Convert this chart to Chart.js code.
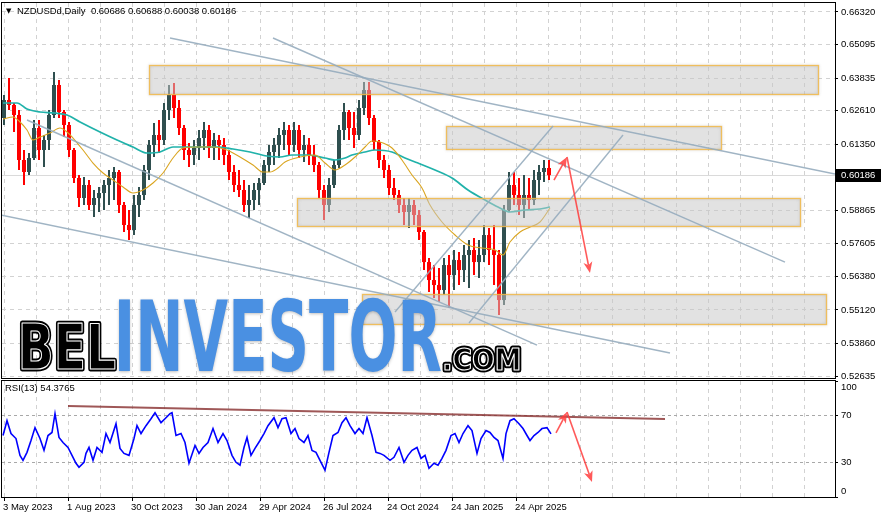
<!DOCTYPE html>
<html><head><meta charset="utf-8">
<script src="https://cdn.jsdelivr.net/npm/chart.js@4.4.1/dist/chart.umd.min.js"></script>
<style>
html,body{margin:0;padding:0;background:#fff;}
#wrap{position:relative;width:882px;height:519px;overflow:hidden;background:#fff}
#p1{position:absolute;left:0;top:0;width:882px;height:380px}
#p2{position:absolute;left:0;top:378px;width:882px;height:141px}
</style></head><body>
<div id="wrap">
<div id="p1"><canvas id="c1" width="882" height="380"></canvas></div>
<div id="p2"><canvas id="c2" width="882" height="141"></canvas></div>
</div>
<script>
// ===== DATA (weekly aggregated candles) =====
const symbolTitle = 'NZDUSDd,Daily  0.60686 0.60688 0.60038 0.60186';
const rsiTitle = 'RSI(13) 54.3765';
const tickLabels = ['3 May 2023','1 Aug 2023','30 Oct 2023','30 Jan 2024','29 Apr 2024','26 Jul 2024','24 Oct 2024','24 Jan 2025','24 Apr 2025'];
const tickDays = [2, 66, 130, 194, 258, 322, 386, 450, 514];
const priceTicks = [0.66320,0.65095,0.63835,0.62610,0.61350,0.58865,0.57605,0.56380,0.55120,0.53860,0.52635];
const rsiTicks = [0, 30, 70, 100];

const opens = [.62334,.63011,.62823,.62447,.60755,.60304,.60830,.61958,.61131,.61507,
.62447,.63575,.62560,.62071,.61131,.60078,.59326,.59815,.59063,.59326,
.59514,.59815,.60078,.60304,.59063,.58311,.58123,.59063,.59439,.60379,
.61319,.61695,.61507,.62635,.63199,.62710,.61958,.61131,.60943,.61206,
.61582,.61883,.61206,.61507,.61319,.60943,.60304,.59815,.59627,.59063,
.59251,.59627,.59890,.60567,.61056,.61319,.61695,.61883,.61319,.61883,
.61131,.61319,.60943,.60567,.59627,.59063,.59815,.60567,.61883,.62560,
.61958,.61695,.62710,.63387,.62334,.61432,.60755,.60379,.59702,.59439,
.59063,.58800,.59063,.58687,.58048,.56919,.56243,.56055,.55867,.56807,
.56431,.56995,.56619,.57183,.57371,.56919,.57183,.57935,.57371,.57183,
.55491,.58875,.59815,.59439,.59063,.59439,.59251,.60003,.60304,.60454];
const highs = [.63199,.63838,.62898,.62635,.61131,.61018,.62259,.62259,.61695,.62635,
.64064,.63763,.62635,.62184,.61206,.60191,.60116,.60003,.59627,.59740,
.60003,.60379,.60492,.60379,.59176,.58875,.59439,.59740,.60567,.61507,
.62146,.62259,.62898,.63575,.63650,.63011,.62071,.61394,.61507,.61883,
.62184,.62071,.61770,.61695,.61582,.61131,.60567,.60379,.60003,.59815,
.59890,.60078,.60755,.61319,.61582,.61958,.62184,.62071,.62184,.62071,
.61695,.61582,.61319,.60680,.59815,.60078,.60755,.62071,.62898,.62635,
.62560,.63011,.63688,.63688,.62447,.61507,.60943,.60567,.60078,.59627,
.59326,.59326,.59251,.58875,.58123,.57070,.56807,.56694,.57070,.57183,
.57371,.57296,.57559,.57747,.57822,.57747,.58311,.58198,.58311,.57371,
.59063,.60304,.60304,.60078,.60191,.60078,.60379,.60567,.60755,.60755];
const lows = [.62071,.62635,.61808,.60379,.59815,.60191,.60755,.60755,.60492,.61131,
.62334,.62334,.61620,.60868,.59890,.58988,.59063,.58875,.58612,.58800,
.58875,.59063,.59251,.58762,.58048,.57747,.57935,.58612,.59251,.60003,
.60868,.61018,.61319,.62259,.62334,.61695,.60755,.60492,.60567,.60755,
.61131,.60830,.60755,.60755,.60567,.60003,.59552,.59364,.58800,.58574,
.58875,.59063,.59815,.60304,.60567,.60830,.61131,.60943,.61056,.60830,
.60680,.60567,.60304,.59326,.58499,.58800,.59702,.60454,.61507,.61507,
.61206,.61507,.62447,.62071,.61131,.60454,.60078,.59439,.59251,.58762,
.58311,.58198,.58311,.57747,.56619,.55792,.55566,.55416,.55679,.55190,
.55867,.56055,.56168,.55943,.56431,.56318,.56919,.56807,.56055,.54927,
.55303,.58800,.59063,.58687,.58574,.58875,.59063,.59439,.59928,.60003];
const closes = [.63011,.62823,.62447,.60755,.60304,.60830,.61958,.61131,.61507,.62447,
.63575,.62560,.62071,.61131,.60078,.59326,.59815,.59063,.59326,.59514,
.59815,.60078,.60304,.59063,.58311,.58123,.59063,.59439,.60379,.61319,
.61695,.61507,.62635,.63199,.62710,.61958,.61131,.60943,.61206,.61582,
.61883,.61206,.61507,.61319,.60943,.60304,.59815,.59627,.59063,.59251,
.59627,.59890,.60567,.61056,.61319,.61695,.61883,.61319,.61883,.61131,
.61319,.60943,.60567,.59627,.59063,.59815,.60567,.61883,.62560,.61958,
.61695,.62710,.63387,.62334,.61432,.60755,.60379,.59702,.59439,.59063,
.58800,.59063,.58687,.58048,.56919,.56243,.56055,.55867,.56807,.56431,
.56995,.56619,.57183,.57371,.56919,.57183,.57935,.57371,.57183,.55491,
.58875,.59815,.59439,.59063,.59439,.59251,.60003,.60304,.60454,.60186];

const slowDays = [1,15,25,38,53,65,78,98,115,131,145,158,171,185,198,215,231,248,265,278,290,306,323,333,343,350,363,373,390,403,416,433,450,466,483,496,508,523,538,548];
const slowVals = [.62898,.62898,.62673,.62560,.62522,.62447,.62184,.61808,.61507,.61244,.61018,.61056,.61244,.61244,.61244,.61244,.61169,.61056,.60905,.60868,.60943,.60943,.60830,.60755,.60830,.60943,.61056,.61131,.61056,.60830,.60642,.60379,.60078,.59627,.59251,.58988,.58800,.58875,.58913,.58988];
const fastDays = [1,11,18,25,31,38,48,58,65,71,81,91,101,111,121,131,141,151,161,171,181,195,211,225,238,251,261,268,276,283,298,313,323,333,343,353,363,370,378,390,400,410,420,428,440,453,466,480,493,501,508,518,528,538,548];
const fastVals = [.62297,.62372,.62184,.61883,.61507,.61620,.61770,.61958,.61808,.61582,.61131,.60642,.60266,.60003,.59740,.59514,.59627,.59890,.60266,.60830,.61206,.61244,.61244,.61131,.60868,.60567,.60304,.60304,.60454,.60680,.60868,.60943,.60642,.60379,.60567,.60868,.61244,.61469,.61432,.61206,.60755,.60191,.59702,.59063,.58424,.57935,.57559,.57446,.57371,.57183,.57672,.58048,.58236,.58424,.58950];

const rsiDays = [1,5,9,14,18,21,25,29,33,38,42,46,50,53,57,61,66,70,74,77,82,84,87,91,95,100,104,108,114,118,122,127,132,135,139,144,149,153,159,163,168,170,174,179,183,187,193,197,201,206,211,216,221,225,230,234,238,242,245,249,253,258,262,266,272,276,280,284,289,293,297,302,306,310,314,319,323,327,331,336,340,344,348,353,357,361,365,370,374,378,382,388,392,397,402,406,410,415,419,423,427,432,436,440,444,449,453,457,461,466,470,475,479,484,488,492,496,501,504,508,512,517,521,525,528,532,536,540,545,549];
const rsiVals = [53.0,65.8,54.7,50.4,35.9,31.6,38.5,48.7,59.8,50.4,40.2,53.0,55.6,71.8,51.3,47.0,42.7,35.9,29.1,25.6,29.9,37.6,42.7,31.6,42.7,38.5,54.7,47.0,63.2,41.9,37.6,35.9,50.4,61.5,54.7,61.5,67.5,72.6,64.1,67.5,71.8,72.6,53.0,54.7,47.0,29.1,44.4,37.6,42.7,47.0,59.0,47.0,54.7,48.7,35.9,29.9,27.4,42.7,51.3,35.9,41.9,48.7,54.7,61.5,68.4,59.8,67.5,68.4,54.7,59.0,50.4,47.0,53.0,40.2,38.5,29.9,23.1,38.5,53.0,55.6,64.1,68.4,61.5,54.7,59.0,54.7,68.4,53.0,38.5,37.6,35.9,31.6,34.2,42.7,29.9,35.9,40.2,42.7,33.3,35.9,24.8,29.1,27.4,33.3,40.2,53.0,54.7,47.0,54.7,61.5,57.3,37.6,50.4,57.3,55.6,51.3,48.7,33.3,54.7,65.8,67.5,63.2,59.0,53.0,48.7,53.0,55.6,59.0,59.8,54.4];

// drawn objects in (day, price) coordinates
const zoneDays = [[147,816],[444,719],[295,798],[360,824]];
const zonePrices = [[0.64327,0.63237],[0.62034,0.61169],[0.59327,0.58274],[0.55717,0.54589]];
const trendDays = [[168,833],[271,783],[25,535],[-1,668],[393,551],[467,621]];
const trendPrices = [[0.65342,0.60229],[0.65342,0.56920],[0.62259,0.53799],[0.58687,0.53498],[0.55040,0.62034],[0.54627,0.61695]];
const arrowDays = [[552,565],[565,588]];
const arrowPrices = [[0.60003,0.60869],[0.60869,0.56507]];
const rsiLineDays = [66,663];
const rsiLineVals = [78.5,67.2];
const rsiArrowDays = [[554,565],[565,590]];
const rsiArrowVals = [[55.2,73.3],[73.3,12.9]];

// ===== SETUP =====
const priceMin = 0.52560, priceMax = 0.66658;
const dayMin = 0, dayMax = 833;
const barX = opens.map((_, i) => 2 + i * 5);
const barColors = opens.map((o, i) => closes[i] >= o ? '#2F4F4F' : '#FF0000');
const gridDays = []; for (let d = 2; d <= dayMax; d += 32) gridDays.push(d);
const lastPrice = closes[closes.length - 1];

const GRID = '#d2d2d2';
const FONT = '9.5px "Liberation Sans", Arial, sans-serif';
Chart.defaults.font.family = '"Liberation Sans", Arial, sans-serif';
Chart.defaults.color = '#000';

function txt(ctx, s, x, y, font, color, align) {
  ctx.save(); ctx.font = font || FONT; ctx.fillStyle = color || '#000';
  ctx.textAlign = align || 'left'; ctx.textBaseline = 'middle'; ctx.fillText(s, x, y); ctx.restore();
}
function frame(ctx, a) {
  ctx.save(); ctx.strokeStyle = '#000'; ctx.lineWidth = 1;
  ctx.strokeRect(a.left - 0.5, a.top - 0.5, a.right - a.left + 1, a.bottom - a.top + 1); ctx.restore();
}
function arrow(ctx, x1, y1, x2, y2, color) {
  const ang = Math.atan2(y2 - y1, x2 - x1), head = 11, hw = 4.5;
  const bx = x2 - head * Math.cos(ang), by = y2 - head * Math.sin(ang);
  ctx.save(); ctx.strokeStyle = color; ctx.fillStyle = color; ctx.lineWidth = 1.6;
  ctx.beginPath(); ctx.moveTo(x1, y1); ctx.lineTo(bx + 3 * Math.cos(ang), by + 3 * Math.sin(ang)); ctx.stroke();
  ctx.beginPath(); ctx.moveTo(x2, y2);
  ctx.lineTo(bx + hw * Math.sin(ang), by - hw * Math.cos(ang));
  ctx.lineTo(bx + 3 * Math.cos(ang), by + 3 * Math.sin(ang));
  ctx.lineTo(bx - hw * Math.sin(ang), by + hw * Math.cos(ang));
  ctx.closePath(); ctx.fill(); ctx.restore();
}
function fitWord(ctx, text, l, t, r, b, font, painter) {
  ctx.save(); ctx.font = font; ctx.textAlign = 'left'; ctx.textBaseline = 'alphabetic';
  const m = ctx.measureText(text);
  const w = m.actualBoundingBoxLeft + m.actualBoundingBoxRight;
  const h = m.actualBoundingBoxAscent + m.actualBoundingBoxDescent;
  const sx = (r - l) / w, sy = (b - t) / h;
  ctx.translate(l, t); ctx.scale(sx, sy);
  painter(ctx, m.actualBoundingBoxLeft, m.actualBoundingBoxAscent, 1 / sy);
  ctx.restore();
}
const WFONT = 'bold 100px "Liberation Sans Narrow", "DejaVu Sans Condensed", "Liberation Sans", sans-serif';
function outlined(word) {
  return (c, x, y, k) => {
    c.lineJoin = 'round';
    c.fillStyle = '#000'; c.strokeStyle = '#000'; c.lineWidth = 5 * k;
    c.strokeText(word, x, y); c.fillText(word, x, y);
    c.strokeStyle = '#fff'; c.lineWidth = 1.1 * k; c.strokeText(word, x, y);
  };
}

const mainPlugin = {
  id: 'mainDeco',
  beforeDatasetsDraw(chart) {
    const {ctx, chartArea: a, scales: {y}} = chart;
    const py = Math.round(y.getPixelForValue(lastPrice)) + 0.5;
    ctx.save(); ctx.strokeStyle = '#dadada'; ctx.lineWidth = 1;
    ctx.beginPath(); ctx.moveTo(a.left, py); ctx.lineTo(a.right, py); ctx.stroke(); ctx.restore();
  },
  afterDatasetsDraw(chart) {
    const {ctx, chartArea: a, scales: {x, y}} = chart;
    ctx.save();
    ctx.beginPath(); ctx.rect(a.left, a.top, a.right - a.left, a.bottom - a.top); ctx.clip();
    // zones
    zoneDays.forEach((d, i) => {
      const x1 = Math.round(x.getPixelForValue(d[0])) + 0.5, x2 = Math.round(x.getPixelForValue(d[1])) + 0.5;
      const y1 = Math.round(y.getPixelForValue(zonePrices[i][0])) + 0.5, y2 = Math.round(y.getPixelForValue(zonePrices[i][1])) + 0.5;
      ctx.save();
      ctx.fillStyle = 'rgba(200,200,200,0.52)';
      ctx.fillRect(x1, y1, x2 - x1, y2 - y1);
      ctx.shadowBlur = 3; ctx.shadowColor = 'rgba(120,120,120,0.35)';
      ctx.strokeStyle = 'rgba(242,185,70,0.85)'; ctx.lineWidth = 1.3;
      ctx.strokeRect(x1, y1, x2 - x1, y2 - y1);
      ctx.restore();
    });
    // trend lines
    ctx.strokeStyle = 'rgba(150,172,190,0.9)'; ctx.lineWidth = 1.4;
    trendDays.forEach((d, i) => {
      ctx.beginPath();
      ctx.moveTo(x.getPixelForValue(d[0]), y.getPixelForValue(trendPrices[i][0]));
      ctx.lineTo(x.getPixelForValue(d[1]), y.getPixelForValue(trendPrices[i][1]));
      ctx.stroke();
    });
    // arrows
    arrowDays.forEach((d, i) => arrow(ctx, x.getPixelForValue(d[0]), y.getPixelForValue(arrowPrices[i][0]),
      x.getPixelForValue(d[1]), y.getPixelForValue(arrowPrices[i][1]), 'rgba(255,60,60,0.85)'));
    ctx.restore();
  },
  afterDraw(chart) {
    const {ctx, chartArea: a, scales: {y}} = chart;
    frame(ctx, a);
    priceTicks.forEach(v => {
      const py = Math.min(Math.max(y.getPixelForValue(v), a.top + 6), a.bottom - 2);
      txt(ctx, v.toFixed(5), a.right + 6, py);
    });
    const pp = y.getPixelForValue(lastPrice);
    ctx.fillStyle = '#000'; ctx.fillRect(a.right + 1, Math.round(pp) - 6, 45, 13);
    txt(ctx, lastPrice.toFixed(5), a.right + 6, Math.round(pp) + 0.5, FONT, '#fff');
    txt(ctx, '\u25BC', 6, 11, '7px "DejaVu Sans", sans-serif');
    txt(ctx, symbolTitle, 17, 11);
    // watermark
    fitWord(ctx, 'BEL', 22, 324, 115, 369, WFONT, outlined('BEL'));
    fitWord(ctx, 'INVESTOR', 119, 298, 441, 372, WFONT, (c, x0, y0) => {
      c.shadowColor = 'rgba(0,0,0,0.25)'; c.shadowBlur = 3; c.shadowOffsetY = 1;
      c.fillStyle = '#4A90E2'; c.fillText('INVESTOR', x0, y0);
    });
    fitWord(ctx, '.COM', 445, 347, 519, 370, WFONT, outlined('.COM'));
  }
};

new Chart(document.getElementById('c1'), {
  type: 'bar',
  data: { datasets: [
    { type: 'line', data: fastDays.map((d, i) => ({x: d, y: fastVals[i]})), borderColor: '#DAA520', borderWidth: 1.1, pointRadius: 0, cubicInterpolationMode: 'monotone', order: 0 },
    { type: 'line', data: slowDays.map((d, i) => ({x: d, y: slowVals[i]})), borderColor: '#20B2AA', borderWidth: 1.7, pointRadius: 0, cubicInterpolationMode: 'monotone', order: 1 },
    { data: opens.map((o, i) => ({x: barX[i], y: [o, closes[i]]})), backgroundColor: barColors, barThickness: 4, grouped: false, inflateAmount: 0, borderWidth: 0, order: 2 },
    { data: highs.map((h, i) => ({x: barX[i], y: [lows[i], h]})), backgroundColor: barColors, barThickness: 2, grouped: false, inflateAmount: 0, borderWidth: 0, order: 3 }
  ]},
  options: {
    responsive: false, animation: false, events: [],
    layout: {padding: {left: 2, top: 3, right: 0, bottom: 2}},
    plugins: {legend: {display: false}, tooltip: {enabled: false}},
    scales: {
      x: { type: 'linear', min: dayMin, max: dayMax, offset: false,
        afterBuildTicks: s => { s.ticks = gridDays.map(v => ({value: v})); },
        afterFit: s => { s.height = 0; },
        ticks: {display: false}, grid: {color: GRID, drawTicks: false, offset: false}, border: {display: false, dash: [4, 4]} },
      y: { type: 'linear', position: 'right', min: priceMin, max: priceMax,
        afterBuildTicks: s => { s.ticks = priceTicks.map(v => ({value: v})); },
        afterFit: s => { s.width = 47; },
        ticks: {display: false}, grid: {color: GRID, tickLength: 3, tickColor: '#000'}, border: {display: false, dash: [4, 4]} }
    }
  },
  plugins: [mainPlugin]
});

const rsiPlugin = {
  id: 'rsiDeco',
  afterDatasetsDraw(chart) {
    const {ctx, chartArea: a, scales: {x, y}} = chart;
    ctx.save();
    ctx.beginPath(); ctx.rect(a.left, a.top, a.right - a.left, a.bottom - a.top); ctx.clip();
    ctx.strokeStyle = 'rgba(135,45,45,0.8)'; ctx.lineWidth = 2;
    ctx.beginPath();
    ctx.moveTo(x.getPixelForValue(rsiLineDays[0]), y.getPixelForValue(rsiLineVals[0]));
    ctx.lineTo(x.getPixelForValue(rsiLineDays[1]), y.getPixelForValue(rsiLineVals[1]));
    ctx.stroke();
    rsiArrowDays.forEach((d, i) => arrow(ctx, x.getPixelForValue(d[0]), y.getPixelForValue(rsiArrowVals[i][0]),
      x.getPixelForValue(d[1]), y.getPixelForValue(rsiArrowVals[i][1]), 'rgba(255,60,60,0.85)'));
    ctx.restore();
  },
  afterDraw(chart) {
    const {ctx, chartArea: a, scales: {y}} = chart;
    frame(ctx, a);
    rsiTicks.forEach(v => {
      const py = Math.min(Math.max(y.getPixelForValue(v), a.top + 6), a.bottom - 6);
      txt(ctx, String(v), a.right + 6, py);
    });
    txt(ctx, rsiTitle, 5, a.top + 7);
  }
};

new Chart(document.getElementById('c2'), {
  type: 'line',
  data: { datasets: [
    { data: rsiDays.map((d, i) => ({x: d, y: rsiVals[i]})), borderColor: '#0000FF', borderWidth: 1.6, pointRadius: 0, tension: 0 }
  ]},
  options: {
    responsive: false, animation: false, events: [],
    layout: {padding: {left: 2, top: 3, right: 0, bottom: 0}},
    plugins: {legend: {display: false}, tooltip: {enabled: false}},
    scales: {
      x: { type: 'linear', min: dayMin, max: dayMax, offset: false,
        afterBuildTicks: s => { s.ticks = gridDays.map(v => ({value: v})); },
        afterFit: s => { s.height = 22; },
        ticks: {autoSkip: false, maxRotation: 0, minRotation: 0, align: 'start', labelOffset: -1, padding: 1,
          font: {size: 9.5}, color: '#000',
          callback: v => { const k = tickDays.indexOf(v); return k >= 0 ? tickLabels[k] : ''; }},
        grid: {color: GRID, tickLength: 4, offset: false,
          tickColor: c => (c.tick && tickDays.includes(c.tick.value)) ? '#000' : 'rgba(0,0,0,0)'},
        border: {display: false, dash: [4, 4]} },
      y: { type: 'linear', position: 'right', min: 0, max: 100,
        afterBuildTicks: s => { s.ticks = rsiTicks.map(v => ({value: v})); },
        afterFit: s => { s.width = 47; },
        ticks: {display: false},
        grid: {color: c => (c.tick && (c.tick.value === 30 || c.tick.value === 70)) ? '#a8a8a8' : 'rgba(0,0,0,0)', tickLength: 3, tickColor: '#000'},
        border: {display: false, dash: [3, 3]} }
    }
  },
  plugins: [rsiPlugin]
});
</script>
</body></html>
